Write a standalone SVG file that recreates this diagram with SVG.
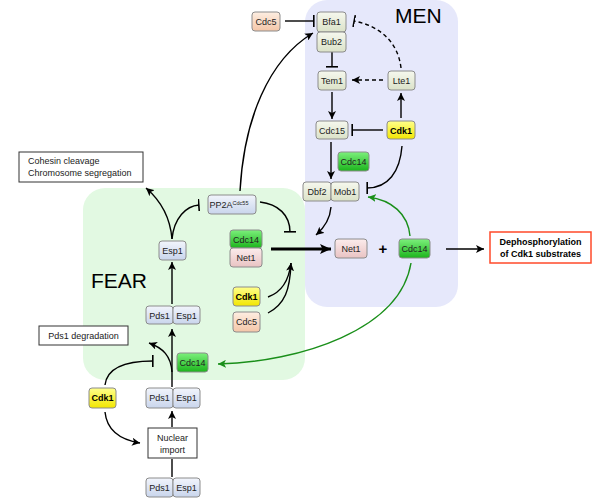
<svg xmlns="http://www.w3.org/2000/svg" width="600" height="500" viewBox="0 0 600 500">
<defs>
<linearGradient id="gMen" x1="0" y1="0" x2="0" y2="1"><stop offset="0" stop-color="#f6f8ee"/><stop offset="1" stop-color="#dbe2c8"/></linearGradient>
<linearGradient id="gBlue" x1="0" y1="0" x2="0" y2="1"><stop offset="0" stop-color="#f2f5fc"/><stop offset="1" stop-color="#c9d5ec"/></linearGradient>
<linearGradient id="gPink" x1="0" y1="0" x2="0" y2="1"><stop offset="0" stop-color="#fcecec"/><stop offset="1" stop-color="#e9c3c3"/></linearGradient>
<linearGradient id="gPeach" x1="0" y1="0" x2="0" y2="1"><stop offset="0" stop-color="#fdeee2"/><stop offset="1" stop-color="#f4c6a8"/></linearGradient>
<linearGradient id="gGreen" x1="0" y1="0" x2="0" y2="1"><stop offset="0" stop-color="#7cf07c"/><stop offset="1" stop-color="#1cb41c"/></linearGradient>
<linearGradient id="gYellow" x1="0" y1="0" x2="0" y2="1"><stop offset="0" stop-color="#ffff8c"/><stop offset="1" stop-color="#f2e600"/></linearGradient>
<marker id="arr" markerUnits="userSpaceOnUse" markerWidth="9" markerHeight="8" refX="8" refY="4" orient="auto"><path d="M0,0 L8,4 L0,8 L2,4 z" fill="#000"/></marker>
<marker id="arrG" markerUnits="userSpaceOnUse" markerWidth="9" markerHeight="8" refX="8" refY="4" orient="auto"><path d="M0,0 L8,4 L0,8 L2,4 z" fill="#1a8f1a"/></marker>
<marker id="arrBig" markerUnits="userSpaceOnUse" markerWidth="12" markerHeight="10" refX="11" refY="5" orient="auto"><path d="M0,0 L11,5 L0,10 L2.5,5 z" fill="#000"/></marker>
<marker id="bar" markerUnits="userSpaceOnUse" markerWidth="2" markerHeight="12" refX="1" refY="6" orient="auto"><rect x="0" y="0" width="1.6" height="12" fill="#000"/></marker>
</defs>
<style>
.n rect{stroke:#8c8c8c;stroke-width:1}
.men rect{fill:url(#gMen)}
.blue rect{fill:url(#gBlue)}
.pink rect{fill:url(#gPink)}
.peach rect{fill:url(#gPeach)}
.green rect{fill:url(#gGreen)}
.yellow rect{fill:url(#gYellow)}
text{font-family:"Liberation Sans",Arial,sans-serif;font-size:9px;fill:#222}
.n text{text-anchor:middle}
.yellow text{font-weight:bold;fill:#000}
.box rect{fill:#fff;stroke:#333;stroke-width:1}
.c path{fill:none;stroke:#000;stroke-width:1.4}
.c .g{stroke:#1a8f1a}
.c .d{stroke-dasharray:4,3}
.big{font-size:21px;fill:#000}
</style>
<rect id="men-bg" x="305" y="0" width="153" height="307" rx="22" fill="#e6e8fb"/>
<rect id="fear-bg" x="83" y="188" width="222" height="192" rx="22" fill="#e2f9e2"/>
<text class="big" x="395" y="23">MEN</text>
<text class="big" x="91" y="288">FEAR</text>

<g id="connectors" class="c">
<path d="M285,21 L314,21" marker-end="url(#bar)"/>
<path class="d" d="M401,68 C398,42 380,26 354,21" marker-end="url(#bar)"/>
<path d="M332,52 L332,67" marker-end="url(#bar)"/>
<path class="d" d="M383,80 L352,80" marker-end="url(#arr)"/>
<path d="M332,92 L332,119" marker-end="url(#arr)"/>
<path d="M401,118 L401,93" marker-end="url(#arr)"/>
<path d="M383,130 L352,130" marker-end="url(#bar)"/>
<path d="M331,142 L331,179" marker-end="url(#arr)"/>
<path d="M402,146 C400,172 388,188 367,188" marker-end="url(#bar)"/>
<path d="M331,207 C330,220 324,228 316,235" marker-end="url(#arr)"/>
<path d="M271,249 L331,249" style="stroke-width:3" marker-end="url(#arrBig)"/>
<path d="M260,202 C278,204 290,215 290,232" marker-end="url(#bar)"/>
<path d="M268,297 C282,292 289,280 291,263" marker-end="url(#arr)"/>
<path d="M268,313 C285,304 290,290 291,263"/>
<path d="M240,191 C244,120 268,60 313,33" marker-end="url(#arr)"/>
<path d="M172,239 C170,215 160,200 146,188" marker-end="url(#arr)"/>
<path d="M172,239 C174,218 186,206 199,205" marker-end="url(#bar)"/>
<path d="M172,304 L172,262" marker-end="url(#arr)"/>
<path d="M172,387 L172,329" marker-end="url(#arr)"/>
<path d="M172,372 C171,356 163,348 149,343" marker-end="url(#arr)"/>
<path d="M105,385 C107,368 125,361 153,361" marker-end="url(#bar)"/>
<path d="M105,412 C107,432 122,440 140,443" marker-end="url(#arr)"/>
<path d="M172,427 L172,411" marker-end="url(#arr)"/>
<path d="M172,477 L172,459"/>
<path d="M446,249 L484,249" marker-end="url(#arr)"/>
<path class="g" d="M411,263 C400,330 300,362 218,364" marker-end="url(#arrG)"/>
<path class="g" d="M410,236 C408,214 392,200 368,197" marker-end="url(#arrG)"/>
</g>

<g id="cdc5-top" class="n peach"><rect x="252" y="12" width="28" height="19" rx="3"/><text x="266" y="25">Cdc5</text></g>
<g id="bfa1" class="n men"><rect x="317" y="12" width="29" height="20" rx="3"/><text x="331.5" y="25">Bfa1</text></g>
<g id="bub2" class="n men"><rect x="317" y="32" width="29" height="20" rx="3"/><text x="331.5" y="45">Bub2</text></g>
<g id="tem1" class="n men"><rect x="318" y="71" width="28" height="19" rx="3"/><text x="332" y="84">Tem1</text></g>
<g id="lte1" class="n men"><rect x="388" y="71" width="27" height="19" rx="3"/><text x="401.5" y="84">Lte1</text></g>
<g id="cdc15" class="n men"><rect x="316" y="121" width="32" height="18" rx="3"/><text x="332" y="133.5">Cdc15</text></g>
<g id="cdk1-men" class="n yellow"><rect x="387" y="121" width="28" height="18" rx="3"/><text x="401" y="133.5">Cdk1</text></g>
<g id="cdc14-men" class="n green"><rect x="338" y="152" width="31" height="19" rx="3"/><text x="353.5" y="165">Cdc14</text></g>
<g id="dbf2" class="n men"><rect x="303" y="182" width="28" height="19" rx="3"/><text x="317" y="195">Dbf2</text></g>
<g id="mob1" class="n men"><rect x="331" y="182" width="28" height="19" rx="3"/><text x="345" y="195">Mob1</text></g>
<g id="net1-r" class="n pink"><rect x="335" y="239" width="32" height="19" rx="3"/><text x="351" y="252">Net1</text></g>
<text x="383" y="254" style="font-size:15px;font-weight:bold;text-anchor:middle;fill:#000">+</text>
<g id="cdc14-r" class="n green"><rect x="399" y="239" width="31" height="19" rx="3"/><text x="414.5" y="252">Cdc14</text></g>
<g id="dephos"><rect x="490" y="232" width="101" height="31" fill="#fff" stroke="#ff4a2a" stroke-width="1.5"/><text x="540.5" y="245" style="text-anchor:middle;font-weight:bold;fill:#000">Dephosphorylation</text><text x="540.5" y="257" style="text-anchor:middle;font-weight:bold;fill:#000">of Cdk1 substrates</text></g>

<g id="pp2a" class="n blue"><rect x="208" y="195" width="48" height="19" rx="3"/><text x="229" y="208">PP2A<tspan dy="-3.5" style="font-size:5.5px">Cdc55</tspan></text></g>
<g id="esp1-f" class="n blue"><rect x="159" y="241" width="27" height="19" rx="3"/><text x="172.5" y="254">Esp1</text></g>
<g id="cdc14-f" class="n green"><rect x="230" y="230" width="32" height="18" rx="3"/><text x="246" y="242.5">Cdc14</text></g>
<g id="net1-f" class="n pink"><rect x="230" y="248" width="32" height="19" rx="3"/><text x="246" y="261">Net1</text></g>
<g id="cdk1-f" class="n yellow"><rect x="233" y="287" width="27" height="19" rx="3"/><text x="246.5" y="300">Cdk1</text></g>
<g id="cdc5-f" class="n peach"><rect x="233" y="312" width="27" height="20" rx="3"/><text x="246.5" y="325">Cdc5</text></g>
<g id="pds1-esp1-a" class="n blue"><rect x="146" y="306" width="27" height="18" rx="3"/><text x="159.5" y="318.5">Pds1</text><rect x="173" y="306" width="27" height="18" rx="3"/><text x="186.5" y="318.5">Esp1</text></g>
<g id="cdc14-low" class="n green"><rect x="177" y="353" width="31" height="19" rx="3"/><text x="192.5" y="366">Cdc14</text></g>
<g id="cdk1-left" class="n yellow"><rect x="89" y="388" width="27" height="20" rx="3"/><text x="102.5" y="401">Cdk1</text></g>
<g id="pds1-esp1-b" class="n blue"><rect x="146" y="388" width="27" height="20" rx="3"/><text x="159.5" y="401">Pds1</text><rect x="173" y="388" width="27" height="20" rx="3"/><text x="186.5" y="401">Esp1</text></g>
<g id="pds1-esp1-c" class="n blue"><rect x="146" y="478" width="27" height="19" rx="3"/><text x="159.5" y="491">Pds1</text><rect x="173" y="478" width="27" height="19" rx="3"/><text x="186.5" y="491">Esp1</text></g>

<g id="cohesin" class="box"><rect x="19" y="152" width="124" height="30"/><text x="28" y="164">Cohesin cleavage</text><text x="28" y="176">Chromosome segregation</text></g>
<g id="pds1-deg" class="box"><rect x="39" y="326" width="89" height="19"/><text x="83.5" y="339" style="text-anchor:middle">Pds1 degradation</text></g>
<g id="nuclear" class="box"><rect x="148" y="428" width="49" height="30"/><text x="172.5" y="441" style="text-anchor:middle">Nuclear</text><text x="172.5" y="453" style="text-anchor:middle">import</text></g>
</svg>
